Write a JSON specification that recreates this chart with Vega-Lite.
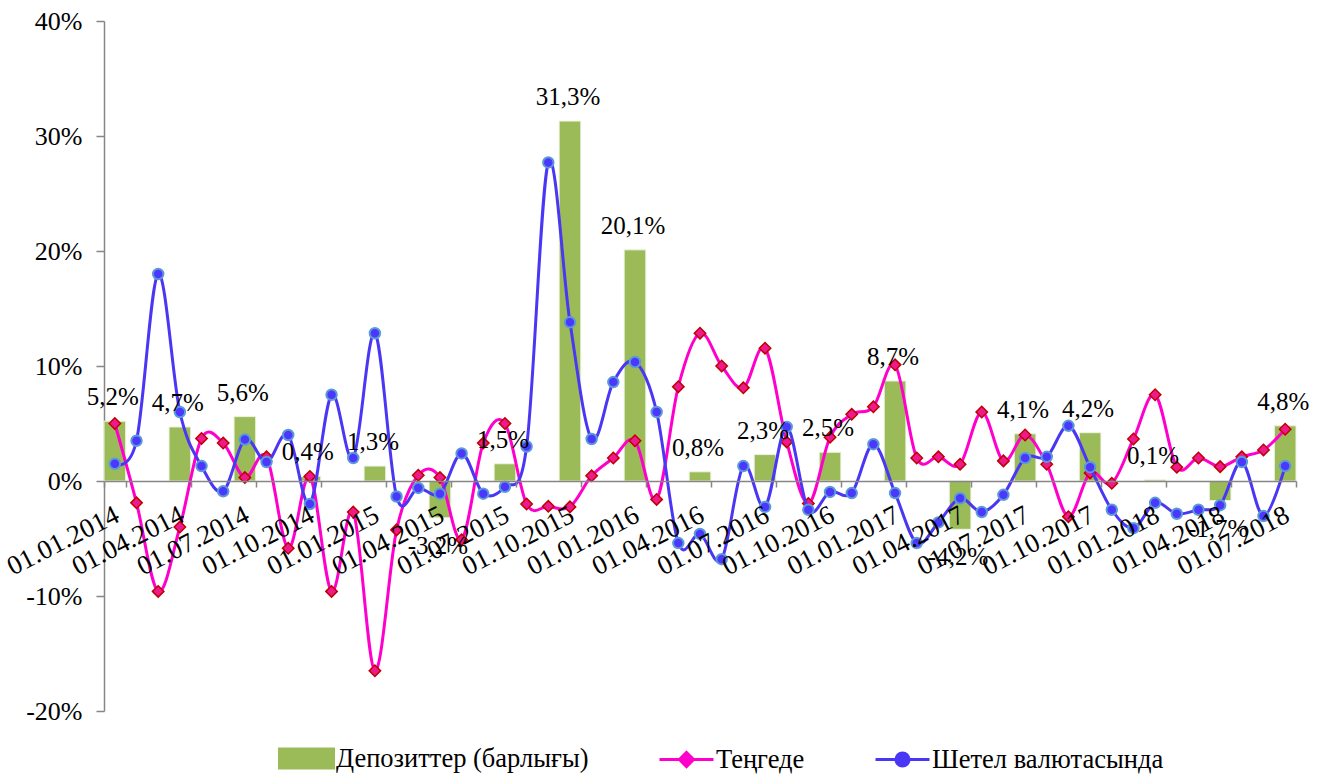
{
  "$schema": "https://vega.github.io/schema/vega-lite/v6.json",
  "width": 1192,
  "height": 690,
  "autosize": {"type": "none"},
  "padding": {"left": 104, "top": 21, "right": 24, "bottom": 64},
  "background": "white",
  "config": {
    "view": {"stroke": null},
    "locale": {"number": {"decimal": ",", "thousands": " ", "grouping": [3], "currency": ["", ""], "minus": "-"}},
    "axis": {"grid": false, "labelFont": "Liberation Serif", "labelColor": "#000000", "domainColor": "#868686", "tickColor": "#868686", "domainWidth": 1.5, "tickWidth": 1.5, "title": null}
  },
  "data": {"values": [
    {"d": "01.01.2014", "tenge": 0.050, "fx": 0.015, "total": 0.052},
    {"d": "01.02.2014", "tenge": -0.019, "fx": 0.035, "total": null},
    {"d": "01.03.2014", "tenge": -0.096, "fx": 0.180, "total": null},
    {"d": "01.04.2014", "tenge": -0.040, "fx": 0.060, "total": 0.047},
    {"d": "01.05.2014", "tenge": 0.037, "fx": 0.013, "total": null},
    {"d": "01.06.2014", "tenge": 0.033, "fx": -0.009, "total": null},
    {"d": "01.07.2014", "tenge": 0.003, "fx": 0.036, "total": 0.056},
    {"d": "01.08.2014", "tenge": 0.021, "fx": 0.0165, "total": null},
    {"d": "01.09.2014", "tenge": -0.0585, "fx": 0.040, "total": null},
    {"d": "01.10.2014", "tenge": 0.004, "fx": -0.020, "total": 0.004},
    {"d": "01.11.2014", "tenge": -0.096, "fx": 0.075, "total": null},
    {"d": "01.12.2014", "tenge": -0.027, "fx": 0.020, "total": null},
    {"d": "01.01.2015", "tenge": -0.165, "fx": 0.1285, "total": 0.013},
    {"d": "01.02.2015", "tenge": -0.0425, "fx": -0.0135, "total": null},
    {"d": "01.03.2015", "tenge": 0.005, "fx": -0.006, "total": null},
    {"d": "01.04.2015", "tenge": 0.003, "fx": -0.011, "total": -0.032},
    {"d": "01.05.2015", "tenge": -0.051, "fx": 0.024, "total": null},
    {"d": "01.06.2015", "tenge": 0.033, "fx": -0.011, "total": null},
    {"d": "01.07.2015", "tenge": 0.050, "fx": -0.005, "total": 0.015},
    {"d": "01.08.2015", "tenge": -0.020, "fx": 0.030, "total": null},
    {"d": "01.09.2015", "tenge": -0.022, "fx": 0.277, "total": null},
    {"d": "01.10.2015", "tenge": -0.0225, "fx": 0.138, "total": 0.313},
    {"d": "01.11.2015", "tenge": 0.0045, "fx": 0.0365, "total": null},
    {"d": "01.12.2015", "tenge": 0.020, "fx": 0.086, "total": null},
    {"d": "01.01.2016", "tenge": 0.035, "fx": 0.1035, "total": 0.201},
    {"d": "01.02.2016", "tenge": -0.016, "fx": 0.060, "total": null},
    {"d": "01.03.2016", "tenge": 0.082, "fx": -0.054, "total": null},
    {"d": "01.04.2016", "tenge": 0.1285, "fx": -0.046, "total": 0.008},
    {"d": "01.05.2016", "tenge": 0.100, "fx": -0.068, "total": null},
    {"d": "01.06.2016", "tenge": 0.081, "fx": 0.013, "total": null},
    {"d": "01.07.2016", "tenge": 0.1155, "fx": -0.0225, "total": 0.023},
    {"d": "01.08.2016", "tenge": 0.034, "fx": 0.047, "total": null},
    {"d": "01.09.2016", "tenge": -0.0195, "fx": -0.025, "total": null},
    {"d": "01.10.2016", "tenge": 0.038, "fx": -0.0095, "total": 0.025},
    {"d": "01.11.2016", "tenge": 0.058, "fx": -0.0105, "total": null},
    {"d": "01.12.2016", "tenge": 0.0645, "fx": 0.032, "total": null},
    {"d": "01.01.2017", "tenge": 0.101, "fx": -0.0105, "total": 0.087},
    {"d": "01.02.2017", "tenge": 0.020, "fx": -0.054, "total": null},
    {"d": "01.03.2017", "tenge": 0.021, "fx": -0.036, "total": null},
    {"d": "01.04.2017", "tenge": 0.0145, "fx": -0.015, "total": -0.042},
    {"d": "01.05.2017", "tenge": 0.060, "fx": -0.027, "total": null},
    {"d": "01.06.2017", "tenge": 0.0175, "fx": -0.012, "total": null},
    {"d": "01.07.2017", "tenge": 0.040, "fx": 0.020, "total": 0.041},
    {"d": "01.08.2017", "tenge": 0.0145, "fx": 0.021, "total": null},
    {"d": "01.09.2017", "tenge": -0.031, "fx": 0.048, "total": null},
    {"d": "01.10.2017", "tenge": 0.007, "fx": 0.012, "total": 0.042},
    {"d": "01.11.2017", "tenge": -0.002, "fx": -0.025, "total": null},
    {"d": "01.12.2017", "tenge": 0.0365, "fx": -0.041, "total": null},
    {"d": "01.01.2018", "tenge": 0.075, "fx": -0.019, "total": 0.001},
    {"d": "01.02.2018", "tenge": 0.012, "fx": -0.0285, "total": null},
    {"d": "01.03.2018", "tenge": 0.020, "fx": -0.025, "total": null},
    {"d": "01.04.2018", "tenge": 0.0125, "fx": -0.021, "total": -0.017},
    {"d": "01.05.2018", "tenge": 0.021, "fx": 0.0165, "total": null},
    {"d": "01.06.2018", "tenge": 0.027, "fx": -0.0305, "total": null},
    {"d": "01.07.2018", "tenge": 0.045, "fx": 0.013, "total": 0.048}
  ]},
  "encoding": {
    "x": {
      "field": "d", "type": "ordinal", "sort": null,
      "scale": {"paddingInner": 0, "paddingOuter": 0,
        "domain": ["01.01.2014","01.02.2014","01.03.2014","01.04.2014","01.05.2014","01.06.2014","01.07.2014","01.08.2014","01.09.2014","01.10.2014","01.11.2014","01.12.2014","01.01.2015","01.02.2015","01.03.2015","01.04.2015","01.05.2015","01.06.2015","01.07.2015","01.08.2015","01.09.2015","01.10.2015","01.11.2015","01.12.2015","01.01.2016","01.02.2016","01.03.2016","01.04.2016","01.05.2016","01.06.2016","01.07.2016","01.08.2016","01.09.2016","01.10.2016","01.11.2016","01.12.2016","01.01.2017","01.02.2017","01.03.2017","01.04.2017","01.05.2017","01.06.2017","01.07.2017","01.08.2017","01.09.2017","01.10.2017","01.11.2017","01.12.2017","01.01.2018","01.02.2018","01.03.2018","01.04.2018","01.05.2018","01.06.2018","01.07.2018"]},
      "axis": {
        "values": ["01.01.2014","01.04.2014","01.07.2014","01.10.2014","01.01.2015","01.04.2015","01.07.2015","01.10.2015","01.01.2016","01.04.2016","01.07.2016","01.10.2016","01.01.2017","01.04.2017","01.07.2017","01.10.2017","01.01.2018","01.04.2018","01.07.2018"],
        "tickBand": "extent", "offset": -230, "zindex": 1,
        "labelAngle": -27, "labelAlign": "right", "labelBaseline": "middle",
        "labelFontSize": 27, "labelPadding": 26, "labelOffset": 2, "tickSize": 6,
        "labelOverlap": false, "labelBound": false, "labelFlush": false
      }
    }
  },
  "layer": [
    {
      "transform": [{"filter": "datum.total != null"}],
      "mark": {"type": "bar", "stroke": "#EEF3E2", "strokeWidth": 1},
      "encoding": {
        "y": {"field": "total", "type": "quantitative", "scale": {"domain": [-0.2, 0.4], "nice": false, "zero": false},
              "axis": {"values": [-0.2,-0.1,0,0.1,0.2,0.3,0.4], "format": ".0%", "labelFontSize": 26, "tickSize": 8, "labelPadding": 14}},
        "color": {
          "datum": "Депозиттер (барлығы)", "type": "nominal",
          "scale": {"domain": ["Депозиттер (барлығы)", "Теңгеде", "Шетел валютасында"], "range": ["#9BBB59", "#FF00CC", "#4A36F5"]},
          "legend": {
            "orient": "none", "legendX": 174, "legendY": 709, "direction": "horizontal", "title": null,
            "labelFont": "Liberation Serif", "labelFontSize": 26.5, "labelColor": "#000000", "labelLimit": 0,
            "symbolSize": 2916, "labelOffset": 1, "columnPadding": 64, "padding": 0,
            "encoding": {
              "symbols": {
                "shape": {"value": {"expr": "datum.value === 'Депозиттер (барлығы)' ? 'M-1,-0.35H1V0.35H-1Z' : datum.value === 'Теңгеде' ? 'M-1,0H1M0,-0.26L0.26,0L0,0.26L-0.26,0Z' : 'M-1,0H1M-0.24,0A0.24,0.24,0,1,0,0.24,0A0.24,0.24,0,1,0,-0.24,0Z'"}},
                "fill": {"value": {"expr": "datum.value === 'Депозиттер (барлығы)' ? '#9BBB59' : datum.value === 'Теңгеде' ? '#EC1A8C' : '#4B37FF'"}},
                "stroke": {"value": {"expr": "datum.value === 'Депозиттер (барлығы)' ? '#9BBB59' : datum.value === 'Теңгеде' ? '#FF00CC' : '#4A36F5'"}},
                "strokeWidth": {"value": 3},
                "opacity": {"value": 1},
                "fillOpacity": {"value": 1},
                "strokeOpacity": {"value": 1}
              }
            }
          }
        }
      }
    },
    {
      "mark": {"type": "line", "interpolate": "cardinal", "strokeWidth": 3},
      "encoding": {
        "y": {"field": "tenge", "type": "quantitative", "scale": {"domain": [-0.2, 0.4], "nice": false, "zero": false}},
        "color": {"datum": "Теңгеде", "type": "nominal"}
      }
    },
    {
      "mark": {"type": "point", "shape": "diamond", "filled": true, "fill": "#EC1A8C", "stroke": "#C00000", "strokeWidth": 1.5, "size": 130, "opacity": 1},
      "encoding": {
        "y": {"field": "tenge", "type": "quantitative", "scale": {"domain": [-0.2, 0.4], "nice": false, "zero": false}}
      }
    },
    {
      "mark": {"type": "line", "interpolate": "cardinal", "strokeWidth": 3},
      "encoding": {
        "y": {"field": "fx", "type": "quantitative", "scale": {"domain": [-0.2, 0.4], "nice": false, "zero": false}},
        "color": {"datum": "Шетел валютасында", "type": "nominal"}
      }
    },
    {
      "mark": {"type": "point", "shape": "circle", "filled": true, "fill": "#4B37FF", "stroke": "#5B9BD5", "strokeWidth": 2, "size": 110, "opacity": 1},
      "encoding": {
        "y": {"field": "fx", "type": "quantitative", "scale": {"domain": [-0.2, 0.4], "nice": false, "zero": false}}
      }
    },
    {
      "transform": [{"filter": "datum.total != null && datum.total > 0"}],
      "mark": {"type": "text", "font": "Liberation Serif", "fontSize": 25, "color": "#000000", "baseline": "alphabetic", "dy": -16, "dx": -2},
      "encoding": {
        "y": {"field": "total", "type": "quantitative", "scale": {"domain": [-0.2, 0.4], "nice": false, "zero": false}},
        "text": {"field": "total", "type": "quantitative", "format": ".1%"}
      }
    },
    {
      "transform": [{"filter": "datum.total != null && datum.total < 0"}],
      "mark": {"type": "text", "font": "Liberation Serif", "fontSize": 25, "color": "#000000", "baseline": "alphabetic", "dy": 36, "dx": -2},
      "encoding": {
        "y": {"field": "total", "type": "quantitative", "scale": {"domain": [-0.2, 0.4], "nice": false, "zero": false}},
        "text": {"field": "total", "type": "quantitative", "format": ".1%"}
      }
    }
  ]
}
